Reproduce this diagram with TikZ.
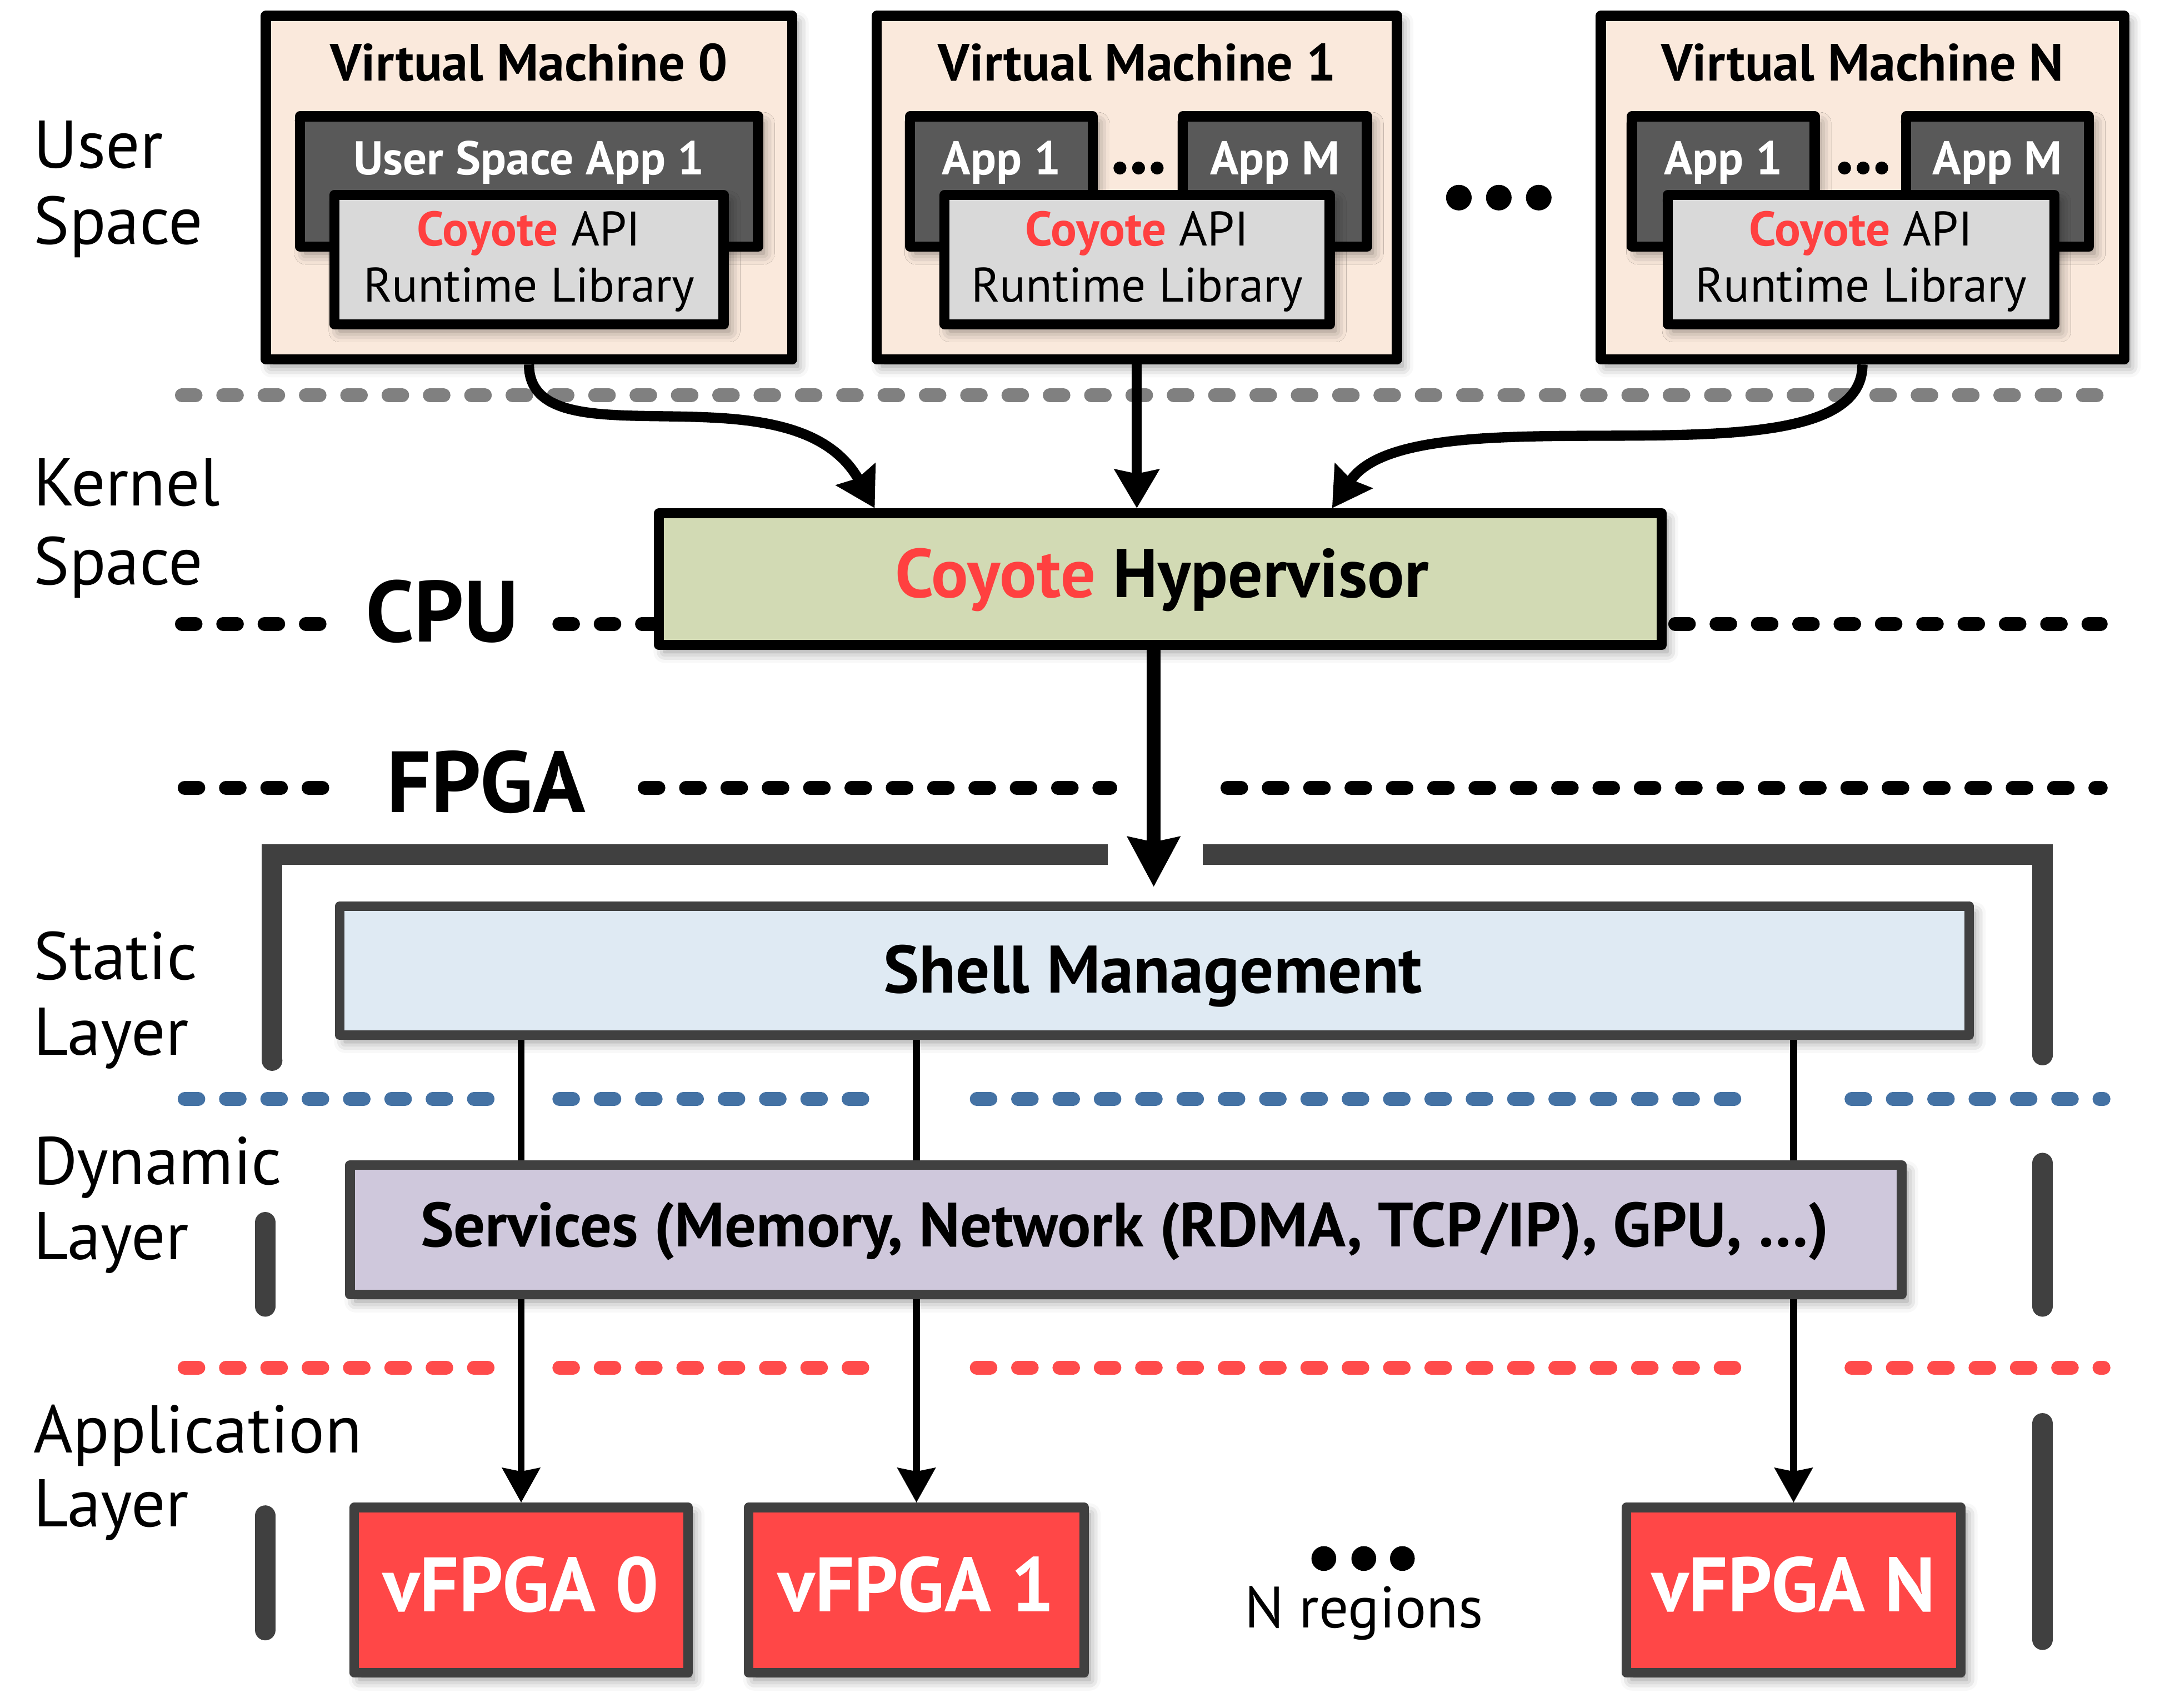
\documentclass[tikz,border=0pt]{standalone}
\usepackage{fontspec}
\setmainfont{PT Sans}
\usetikzlibrary{arrows.meta,fit,calc,shadows.blur}
\definecolor{vmfill}{HTML}{FAE9DC}
\definecolor{appfill}{HTML}{595959}
\definecolor{libfill}{HTML}{D9D9D9}
\definecolor{hypfill}{HTML}{D2DAB4}
\definecolor{shellfill}{HTML}{DFEAF3}
\definecolor{svcfill}{HTML}{CFC8DC}
\definecolor{vffill}{HTML}{FF4747}
\definecolor{coyred}{HTML}{FF4040}
\definecolor{dgray}{HTML}{404040}
\definecolor{dashgray}{HTML}{808080}
\definecolor{dashblue}{HTML}{4472A4}
\definecolor{dashred}{HTML}{FF4B4B}
\tikzset{
  shad/.style={blur shadow={shadow xshift=2pt, shadow yshift=-2.5pt, shadow blur radius=4pt, shadow opacity=45}},
  box/.style={inner sep=0pt, shad},
  vmbox/.style={box, draw=black, line width=3.7pt, fill=vmfill},
  appbox/.style={box, draw=black, line width=3.7pt, fill=appfill},
  libbox/.style={box, draw=black, line width=3.7pt, fill=libfill},
  hypbox/.style={box, draw=black, line width=3.7pt, fill=hypfill},
  shellbox/.style={box, draw=dgray, line width=3.5pt, fill=shellfill},
  svcbox/.style={box, draw=dgray, line width=3.5pt, fill=svcfill},
  vfbox/.style={box, draw=dgray, line width=3.5pt, fill=vffill},
  txt/.style={anchor=base, inner sep=0pt},
  lbl/.style={anchor=base west, inner sep=0pt, font=\fontsize{24.5}{29}\selectfont},
  vmtitle/.style={txt, font=\bfseries\fontsize{19}{23}\selectfont},
  apptext/.style={txt, text=white, font=\bfseries\fontsize{17.2}{20}\selectfont},
  libtext/.style={txt, font=\fontsize{17.6}{20}\selectfont},
  hyptext/.style={txt, font=\bfseries\fontsize{25}{29}\selectfont},
  cputext/.style={txt, font=\bfseries\fontsize{31.5}{36}\selectfont},
  shelltext/.style={txt, font=\bfseries\fontsize{24.4}{28}\selectfont},
  svctext/.style={txt, font=\bfseries\fontsize{22.7}{26}\selectfont},
  vftext/.style={txt, text=white, font=\bfseries\fontsize{28}{32}\selectfont},
  regtext/.style={txt, font=\fontsize{21.2}{25}\selectfont},
  arr/.style={line width=3.7pt, -{Stealth[length=14pt, width=16pt, inset=1.5pt]}},
  bigarr/.style={line width=5pt, -{Stealth[length=18pt, width=18.5pt, inset=1.7pt]}},
  thinarr/.style={line width=2.6pt, -{Stealth[length=12.5pt, width=13.5pt, inset=1.2pt]}},
  conn/.style={line width=2.6pt},
  dl/.style={line width=5pt, line cap=round, dash pattern=on 5pt off 10pt},
  frame/.style={draw=dgray, line width=7.5pt},
}
\begin{document}
\begin{tikzpicture}[x=0.5pt, y=-0.5pt, line join=round]
\useasboundingbox (0,0) rectangle (1568,1240);

% ---------- separator lines ----------
\draw[dl, dashgray] (132,287) -- (1525,287);
\draw[dl] (132,453) -- (232,453);
\draw[dl] (406,453) -- (1525,453);
\draw[dl] (134,572) -- (234,572);
\draw[dl] (468,572) -- (806,572);
\draw[dl] (891,572) -- (1525,572);
\foreach \a/\b in {134/354, 406/627, 709/1261, 1344/1527} {
  \draw[dl, dashblue] (\a,798) -- (\b,798);
  \draw[dl, dashred] (\a,993) -- (\b,993);
}

% ---------- FPGA frame ----------
\draw[frame, line cap=butt, line join=miter] (197.5,770) -- (197.5,620.5) -- (804,620.5);
\fill[dgray] (197.5,770) circle[radius=7.5];
\draw[frame, line cap=butt, line join=miter] (873,620.5) -- (1482.7,620.5) -- (1482.7,766);
\fill[dgray] (1482.7,766) circle[radius=7.5];
\draw[frame, line cap=round] (192.5,887.5) -- (192.5,948.5);
\draw[frame, line cap=round] (192.5,1100.5) -- (192.5,1183.5);
\draw[frame, line cap=round] (1482.7,844.5) -- (1482.7,948.5);
\draw[frame, line cap=round] (1482.7,1033.5) -- (1482.7,1190.5);

% ---------- layer labels ----------
\node[lbl] (lUser) at (24,122) {User};
\node[lbl] (lUserSp) at (24,177.4) {Space};
\node[lbl] (lKernel) at (24,367.2) {Kernel};
\node[lbl] (lKernelSp) at (24,424.3) {Space};
\node[lbl] (lStatic) at (24,711.4) {Static};
\node[lbl] (lStaticL) at (24,766) {Layer};
\node[lbl] (lDyn) at (24,860) {Dynamic};
\node[lbl] (lDynL) at (24,914.6) {Layer};
\node[lbl] (lApp) at (24,1055) {Application};
\node[lbl] (lAppL) at (24,1108.6) {Layer};

% ---------- virtual machines ----------
\node[vmbox, fit={(193,11.5) (575,261)}] (vm0) {};
\node[appbox, fit={(217.7,84.5) (550.3,179)}] (app0) {};
\node[libbox, fit={(242.7,141.6) (525.3,235.4)}] (lib0) {};
\node[vmtitle] (tvm0) at (384,58.6) {Virtual Machine 0};
\node[apptext] (tapp0) at (384,127) {User Space App 1};
\node[libtext] (tlib0a) at (384,178.4) {\textcolor{coyred}{\bfseries Coyote} API};
\node[libtext] (tlib0b) at (384,219) {Runtime Library};

\node[vmbox, fit={(636.5,11.5) (1014,261)}] (vm1) {};
\node[appbox, fit={(660.7,84.5) (793.3,179)}] (app1a) {};
\node[appbox, fit={(858.7,84.5) (992.3,179)}] (app1m) {};
\node[libbox, fit={(685.7,141.6) (965.3,235.4)}] (lib1) {};
\node[vmtitle] (tvm1) at (825.5,58.6) {Virtual Machine 1};
\node[apptext] (tapp1a) at (727,127) {App 1};
\node[apptext] (tapp1m) at (925.5,127) {App M};
\node[libtext] (tlib1a) at (825.5,178.4) {\textcolor{coyred}{\bfseries Coyote} API};
\node[libtext] (tlib1b) at (825.5,219) {Runtime Library};
\foreach \x in {813,826.5,840} \fill (\x,122) circle[radius=4.7];

\node[vmbox, fit={(1162,11.5) (1542,261)}] (vmN) {};
\node[appbox, fit={(1184.7,84.5) (1317.3,179)}] (appNa) {};
\node[appbox, fit={(1383.7,84.5) (1516.3,179)}] (appNm) {};
\node[libbox, fit={(1210.7,141.6) (1491.3,235.4)}] (libN) {};
\node[vmtitle] (tvmN) at (1352,58.6) {Virtual Machine N};
\node[apptext] (tappNa) at (1251,127) {App 1};
\node[apptext] (tappNm) at (1450,127) {App M};
\node[libtext] (tlibNa) at (1351,178.4) {\textcolor{coyred}{\bfseries Coyote} API};
\node[libtext] (tlibNb) at (1351,219) {Runtime Library};
\foreach \x in {1339,1352.5,1366} \fill (\x,122) circle[radius=4.7];

\foreach \x in {1059,1088,1117} \fill (\x,143.5) circle[radius=9.3];

% ---------- hypervisor ----------
\node[hypbox, fit={(478.4,372.7) (1206.3,468.3)}] (hyp) {};
\node[hyptext] (thyp) at (843.5,433.6) {\textcolor{coyred}{Coyote} Hypervisor};
\node[cputext] (tcpu) at (321,466) {CPU};
\node[cputext] (tfpga) at (353,590) {FPGA};

% ---------- FPGA side ----------
\node[shellbox, fit={(246.5,658) (1429.5,751.5)}] (shell) {};
\node[shelltext] (tshell) at (837,720.7) {Shell Management};
\node[svcbox, fit={(254.1,846) (1380.5,939.9)}] (svc) {};
\node[svctext] (tsvc) at (816.5,905) {Services (Memory, Network (RDMA, TCP/IP), GPU, …)};

\node[vfbox, fit={(257.1,1094.5) (499.5,1214.5)}] (vf0) {};
\node[vfbox, fit={(543.5,1094.5) (787,1214.5)}] (vf1) {};
\node[vfbox, fit={(1180.5,1094.5) (1423.5,1214.5)}] (vfN) {};
\node[vftext] (tvf0) at (378.3,1170) {vFPGA 0};
\node[vftext] (tvf1) at (665.2,1170) {vFPGA 1};
\node[vftext] (tvfN) at (1302,1170) {vFPGA N};
\foreach \x in {961,990,1018} \fill (\x,1131.6) circle[radius=9];
\node[regtext] (tregions) at (990,1181.7) {N regions};

% ---------- connectors ----------
\draw[arr] (vm0.south) .. controls +(0,75) and +(-60,-107) .. ($(hyp.north west)!0.218!(hyp.north east)$);
\draw[arr] (vm1.south) -- (vm1.south |- hyp.north);
\draw[arr] (vmN.south) .. controls +(0,95) and +(60,-90) .. ($(hyp.north west)!0.6695!(hyp.north east)$);

\coordinate (fpin) at (837.5,644);
\draw[bigarr] (hyp.south -| fpin) -- (fpin);

\foreach \v in {vf0,vf1,vfN} {
  \draw[conn] (\v.north |- shell.south) -- (\v.north |- svc.north);
  \draw[thinarr] (\v.north |- svc.south) -- (\v.north);
}
\end{tikzpicture}
\end{document}
